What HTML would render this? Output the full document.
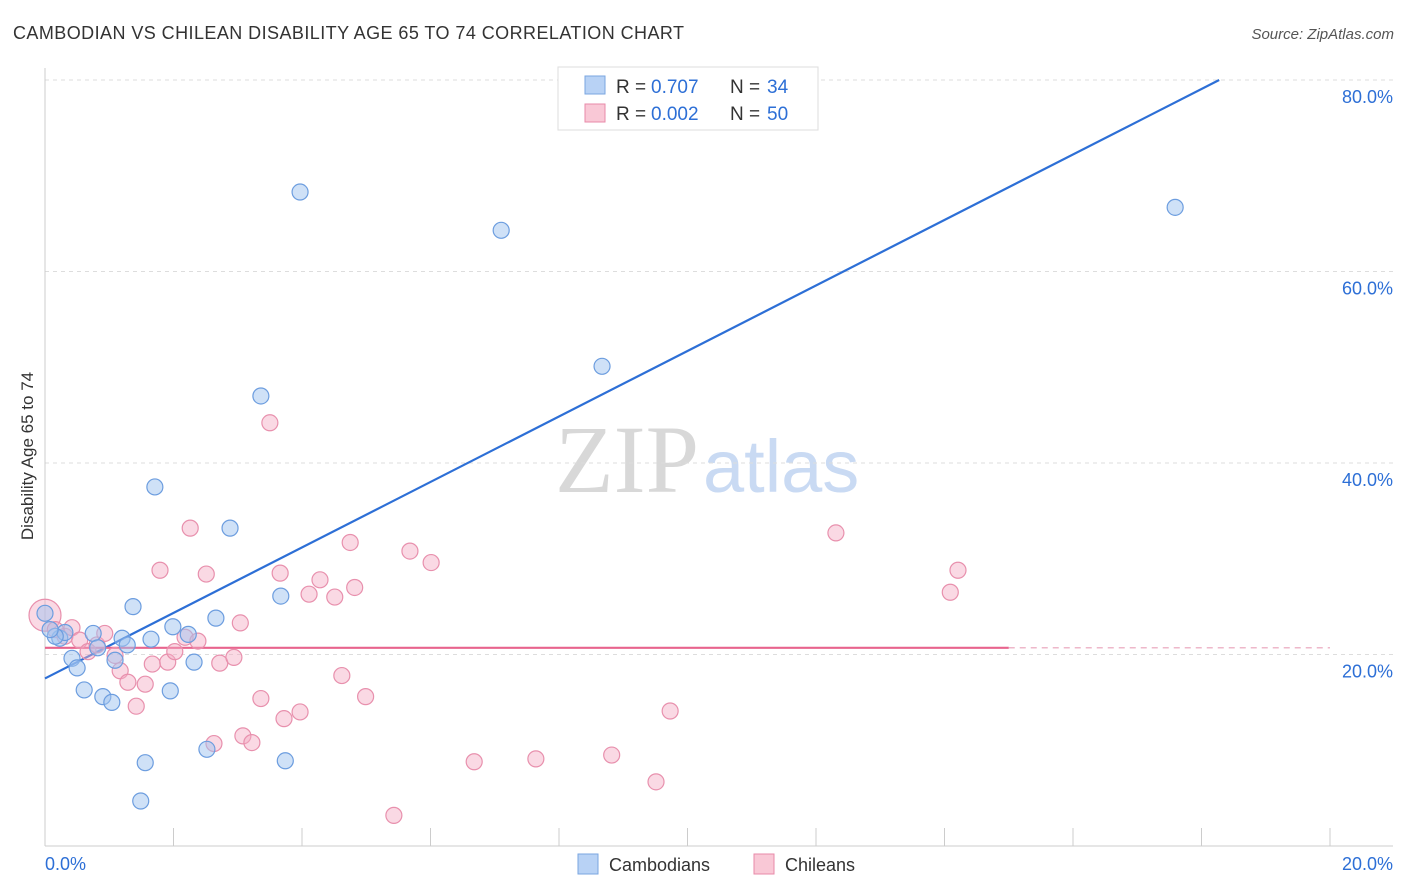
<!DOCTYPE html>
<html><head><meta charset="utf-8">
<style>
body{margin:0;background:#fff;font-family:"Liberation Sans",sans-serif;}
svg{display:block}
</style></head>
<body>
<svg id="chart" width="1406" height="892" xmlns="http://www.w3.org/2000/svg">
<text x="13" y="39" font-size="18" fill="#333" textLength="671" lengthAdjust="spacing">CAMBODIAN VS CHILEAN DISABILITY AGE 65 TO 74 CORRELATION CHART</text>
<text x="1394" y="39" font-size="15" fill="#555" text-anchor="end" font-style="italic">Source: ZipAtlas.com</text>
<text x="555" y="492" font-size="96" font-family="Liberation Serif" fill="#ddd"><tspan fill="#d8d8d8">ZIP</tspan><tspan fill="#c9daf3" font-family="Liberation Sans" font-size="74" dx="4">atlas</tspan></text>
<g id="grid"></g>
<g id="axes"></g>
<g id="lines"></g>
<g id="points"></g>
<text transform="translate(33,456) rotate(-90)" font-size="17" fill="#333" text-anchor="middle">Disability Age 65 to 74</text>
<g>
<rect x="558" y="67" width="260" height="63" fill="#fff" stroke="#ddd"/>
<rect x="585" y="76" width="20" height="18" fill="#b8d2f5" stroke="#7aa6e0"/>
<text x="616" y="93" font-size="19" fill="#333">R =</text>
<text x="651" y="93" font-size="19" fill="#2d6fd6">0.707</text>
<text x="730" y="93" font-size="19" fill="#333">N =</text>
<text x="767" y="93" font-size="19" fill="#2d6fd6">34</text>
<rect x="585" y="104" width="20" height="18" fill="#f9c8d6" stroke="#e88aa8"/>
<text x="616" y="120" font-size="19" fill="#333">R =</text>
<text x="651" y="120" font-size="19" fill="#2d6fd6">0.002</text>
<text x="730" y="120" font-size="19" fill="#333">N =</text>
<text x="767" y="120" font-size="19" fill="#2d6fd6">50</text>
</g>
<g>
<rect x="578" y="854" width="20" height="20" fill="#b8d2f5" stroke="#7aa6e0"/>
<text x="609" y="871" font-size="18" fill="#333">Cambodians</text>
<rect x="754" y="854" width="20" height="20" fill="#f9c8d6" stroke="#e88aa8"/>
<text x="785" y="871" font-size="18" fill="#333">Chileans</text>
</g>
</svg>
<script>
const cambX=[0.00,0.23,0.31,0.42,0.50,0.61,0.75,0.82,0.90,1.04,1.09,1.20,1.28,1.37,1.56,1.49,1.65,1.71,1.95,1.99,2.23,2.32,2.52,2.66,2.88,3.36,3.67,3.74,3.97,7.10,8.67,17.59,0.16,0.08];
const cambY=[24.3,21.7,22.3,19.6,18.6,16.3,22.2,20.7,15.6,15.0,19.4,21.7,21.0,25.0,8.7,4.7,21.6,37.5,16.2,22.9,22.1,19.2,10.1,23.8,33.2,47.0,26.1,8.9,68.3,64.3,50.1,66.7,21.9,22.6];
const chilX=[0,0.16,0.31,0.42,0.54,0.67,0.81,0.93,1.09,1.17,1.29,1.42,1.56,1.67,1.79,1.91,2.02,2.18,2.26,2.38,2.51,2.63,2.72,2.94,3.04,3.08,3.22,3.36,3.50,3.66,3.72,3.97,4.11,4.28,4.51,4.62,4.75,4.82,4.99,5.43,5.68,6.01,6.68,7.64,8.82,9.51,9.73,12.31,14.09,14.21];
const chilY=[24.1,22.6,21.9,22.8,21.5,20.3,21.0,22.2,19.9,18.3,17.1,14.6,16.9,19.0,28.8,19.2,20.3,21.8,33.2,21.4,28.4,10.7,19.1,19.7,23.3,11.5,10.8,15.4,44.2,28.5,13.3,14.0,26.3,27.8,26.0,17.8,31.7,27.0,15.6,3.2,30.8,29.6,8.8,9.1,9.5,6.7,14.1,32.7,26.5,28.8];
const yTicks=[20,40,60,80];
const xTickLabels=["0.0%","20.0%"];
const cambFit=[17.5,3.42];
const chilFit=[20.7,0.0];
const NS="http://www.w3.org/2000/svg";
const X=v=>45+v*64.25, Y=v=>846-v*9.575;
function mk(p,tag,at){const e=document.createElementNS(NS,tag);for(const k in at)e.setAttribute(k,at[k]);p.appendChild(e);return e;}
const grid=document.getElementById('grid'),axes=document.getElementById('axes'),lines=document.getElementById('lines'),pts=document.getElementById('points');
yTicks.forEach(t=>{
 const l=mk(grid,'line',{x1:45,x2:1393,y1:Y(t),y2:Y(t),stroke:'#ddd','stroke-dasharray':'4,4'});
 
 
 const tx=mk(grid,'text',{x:1393,y:Y(t)+23,'font-size':18,fill:'#2d6fd6','text-anchor':'end'});
 tx.textContent=t.toFixed(1)+'%';
 
 
});
mk(axes,'line',{x1:45,x2:45,y1:68,y2:846,stroke:'#ccc'});
mk(axes,'line',{x1:45,x2:1393,y1:846,y2:846,stroke:'#ccc'});
for(let i=0;i<=10;i++){mk(axes,'line',{x1:X(i*2),x2:X(i*2),y1:828,y2:846,stroke:'#ccc'});}
const xl0=mk(axes,'text',{x:45,y:870,'font-size':18,fill:'#2d6fd6'});xl0.textContent=xTickLabels[0];


const xl1=mk(axes,'text',{x:1393,y:870,'font-size':18,fill:'#2d6fd6','text-anchor':'end'});xl1.textContent=xTickLabels[1];


function dot(x,y,fill,stroke,r){const c=mk(pts,'circle',{cx:X(x),cy:Y(y),r:r,fill:fill,stroke:stroke,'stroke-width':1.2});return c;}
chilX.forEach((x,i)=>{const c=dot(x,chilY[i],'rgba(245,170,195,0.45)','#e890ad',i===0?16:8);
 
 });
cambX.forEach((x,i)=>{const c=dot(x,cambY[i],'rgba(160,195,240,0.5)','#6c9ddf',8);
 
 });
const xe=(80-cambFit[0])/cambFit[1];
const bl=mk(lines,'line',{x1:X(0),y1:Y(cambFit[0]),x2:X(xe),y2:Y(80),stroke:'#2d6fd6','stroke-width':2.2});


const pl=mk(lines,'line',{x1:X(0),y1:Y(chilFit[0]),x2:X(15),y2:Y(chilFit[0]+15*chilFit[1]),stroke:'#e8648e','stroke-width':2.2});


const pd=mk(lines,'line',{x1:X(15),y1:Y(chilFit[0]+15*chilFit[1]),x2:X(20),y2:Y(chilFit[0]+20*chilFit[1]),stroke:'#e8a0b8','stroke-width':1.2,'stroke-dasharray':'6,5'});


</script>
</body></html>
